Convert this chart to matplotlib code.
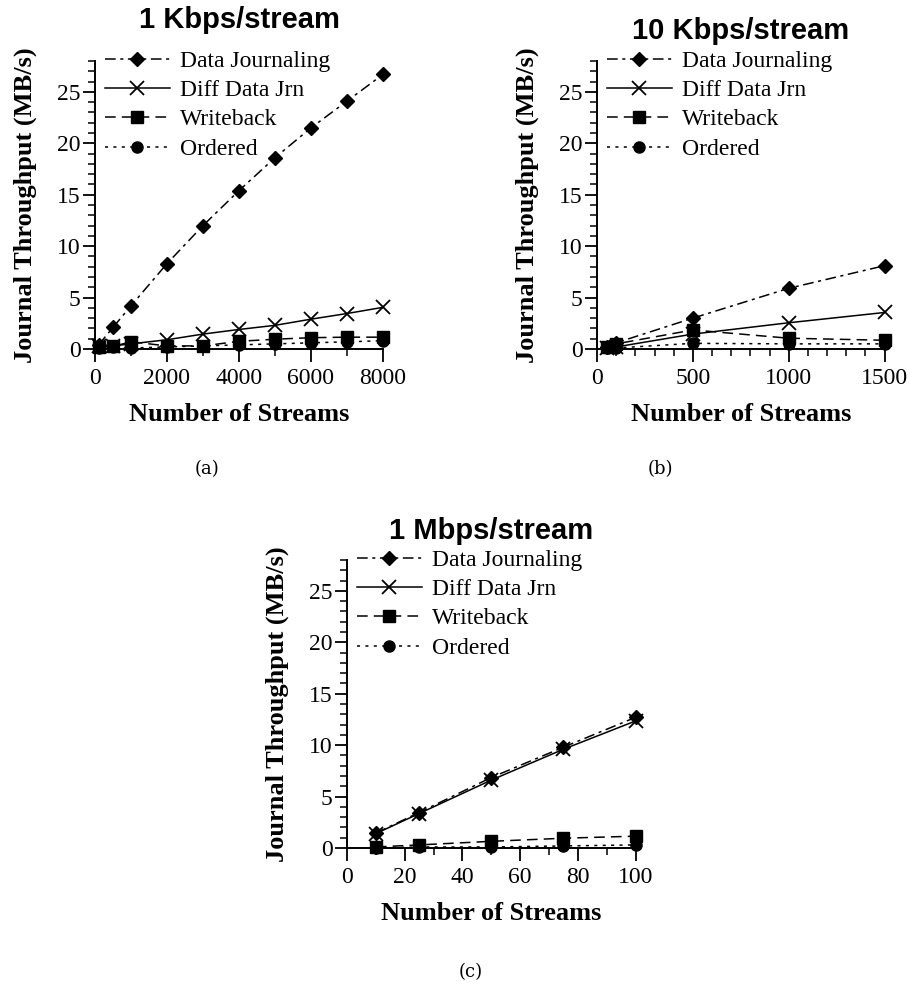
import matplotlib
matplotlib.use("Agg")
import matplotlib.pyplot as plt
from matplotlib.ticker import MultipleLocator

plt.rcParams["font.family"] = ["Liberation Serif", "DejaVu Serif"]

series_names = ["Data Journaling", "Diff Data Jrn", "Writeback", "Ordered"]

# 1 Kbps/stream
streams_1k = [100, 500, 1000, 2000, 3000, 4000, 5000, 6000, 7000, 8000]
dj_1k = [0.4, 2.1, 4.2, 8.3, 12.0, 15.4, 18.6, 21.5, 24.1, 26.7]
ddj_1k = [0.3, 0.3, 0.5, 0.9, 1.45, 1.9, 2.3, 2.9, 3.45, 4.05]
wb_1k = [0.15, 0.25, 0.7, 0.3, 0.3, 0.75, 0.95, 1.1, 1.15, 1.15]
ord_1k = [0.1, 0.2, 0.1, 0.2, 0.3, 0.4, 0.5, 0.6, 0.7, 0.8]

# 10 Kbps/stream
streams_10k = [50, 100, 500, 1000, 1500]
dj_10k = [0.2, 0.6, 3.0, 5.9, 8.1]
ddj_10k = [0.1, 0.2, 1.45, 2.55, 3.55]
wb_10k = [0.2, 0.5, 1.85, 1.05, 0.85]
ord_10k = [0.1, 0.1, 0.55, 0.5, 0.5]

# 1 Mbps/stream
streams_1m = [10, 25, 50, 75, 100]
dj_1m = [1.45, 3.45, 6.85, 9.8, 12.7]
ddj_1m = [1.4, 3.35, 6.6, 9.6, 12.35]
wb_1m = [0.1, 0.3, 0.65, 0.95, 1.15]
ord_1m = [0.0, 0.1, 0.1, 0.2, 0.3]

titles = ["1 Kbps/stream", "10 Kbps/stream", "1 Mbps/stream"]
captions = ["(a)", "(b)", "(c)"]

styles = [
    dict(linestyle=(0, (7, 3, 2, 3)), marker="D", markersize=7),
    dict(linestyle="-", marker="x", markersize=10, markeredgewidth=1.3),
    dict(linestyle=(0, (7, 4)), marker="s", markersize=8),
    dict(linestyle=(0, (2, 3.5)), marker="o", markersize=8),
]

W, H = 910, 990
fig = plt.figure(figsize=(W / 100, H / 100), dpi=100)


def px_axes(left, top, width, height):
    return fig.add_axes([left / W, 1 - (top + height) / H, width / W, height / H])


panels = [
    (px_axes(95, 61, 288, 288), streams_1k, [dj_1k, ddj_1k, wb_1k, ord_1k],
     8000, 2000, 1000, 23.5),
    (px_axes(597, 61, 287.5, 288), streams_10k, [dj_10k, ddj_10k, wb_10k, ord_10k],
     1500, 500, 100, 16),
    (px_axes(347, 560, 288.5, 288), streams_1m, [dj_1m, ddj_1m, wb_1m, ord_1m],
     100, 20, 10, 15),
]

for i, (ax, xs, ys_list, xmax, xmaj, xmin, tpad) in enumerate(panels):
    for name, ys, st in zip(series_names, ys_list, styles):
        ax.plot(xs, ys, color="black", linewidth=1.1, label=name,
                markerfacecolor="black", markeredgecolor="black", clip_on=False, **st)
    ax.set_xlim(0, xmax)
    ax.set_ylim(0, 28)
    ax.xaxis.set_major_locator(MultipleLocator(xmaj))
    ax.xaxis.set_minor_locator(MultipleLocator(xmin))
    ax.yaxis.set_major_locator(MultipleLocator(5))
    ax.yaxis.set_minor_locator(MultipleLocator(1))
    for s in ["top", "right"]:
        ax.spines[s].set_visible(False)
    for s in ["left", "bottom"]:
        ax.spines[s].set_linewidth(1.4)
    ax.tick_params(which="major", direction="out", length=9, width=1.3, labelsize=17)
    ax.tick_params(which="minor", direction="out", length=4.8, width=1.1)
    ax.tick_params(axis="x", which="major", pad=5)
    ax.tick_params(axis="y", which="major", pad=1.5)
    ax.set_xlabel("Number of Streams", fontsize=19, fontweight="bold", labelpad=10)
    ax.set_ylabel("Journal Throughput (MB/s)", fontsize=19, fontweight="bold", labelpad=14)
    ax.set_title(titles[i], fontsize=21, fontweight="bold",
                 family=["Liberation Sans", "DejaVu Sans"], pad=tpad)
    ax.legend(loc="upper left", bbox_to_anchor=(0.002, 1.07), frameon=False,
              fontsize=17, handlelength=2.75, handletextpad=0.42, labelspacing=0.33,
              borderaxespad=0.0)

fig.text(207 / W, 1 - 469 / H, captions[0], ha="center", va="center",
         fontsize=13, family=["DejaVu Serif"])
fig.text(660 / W, 1 - 469 / H, captions[1], ha="center", va="center",
         fontsize=13, family=["DejaVu Serif"])
fig.text(471 / W, 1 - 972 / H, captions[2], ha="center", va="center",
         fontsize=13, family=["DejaVu Serif"])

fig.savefig("out.png", dpi=100)
